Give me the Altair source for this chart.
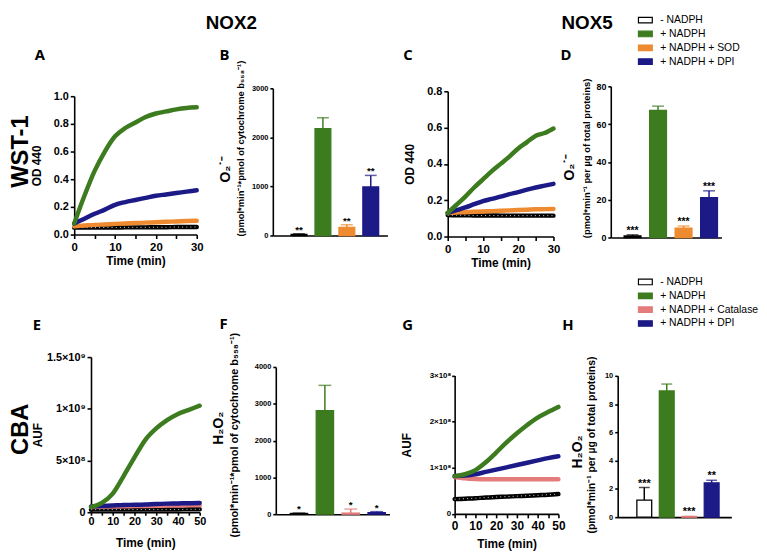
import altair as alt
import pandas as pd

FONT = "Liberation Sans"
HEAD_FONT = "Open Sans"

# ---------------- conditions & colours ----------------
COND_SOD = ["- NADPH", "+ NADPH", "+ NADPH + SOD", "+ NADPH + DPI"]
COND_CAT = ["- NADPH", "+ NADPH", "+ NADPH + Catalase", "+ NADPH + DPI"]
GREEN, BLUE, ORANGE, PINK, BLACK = "#3d7b1f", "#1c1a87", "#ee8a2f", "#e47c7c", "#000000"
LINE_SOD = [BLACK, GREEN, ORANGE, BLUE]
LINE_CAT = [BLACK, GREEN, PINK, BLUE]
FILL_SOD = ["#ffffff", GREEN, ORANGE, BLUE]
FILL_CAT = ["#ffffff", GREEN, PINK, BLUE]

# ---------------- panel A : NOX2 WST-1 (OD 440) ----------------
A_TIME = [0, 2.5, 5, 7.5, 10, 12.5, 15, 17.5, 20, 22.5, 25, 27.5, 30]
A_MINUS = [0.050, 0.050, 0.050, 0.051, 0.051, 0.052, 0.052, 0.052, 0.053, 0.053, 0.054, 0.054, 0.055]
A_NADPH = [0.08, 0.28, 0.46, 0.60, 0.71, 0.77, 0.81, 0.85, 0.875, 0.89, 0.905, 0.915, 0.92]
A_SOD = [0.060, 0.065, 0.070, 0.073, 0.077, 0.080, 0.083, 0.086, 0.089, 0.092, 0.095, 0.098, 0.100]
A_DPI = [0.08, 0.115, 0.15, 0.18, 0.215, 0.235, 0.25, 0.265, 0.28, 0.29, 0.30, 0.31, 0.32]

# ---------------- panel C : NOX5 WST-1 (OD 440) ----------------
C_TIME = [0, 2.5, 5, 7.5, 10, 12.5, 15, 17.5, 20, 22.5, 25, 27.5, 30]
C_MINUS = [0.118, 0.117, 0.117, 0.116, 0.116, 0.116, 0.115, 0.115, 0.115, 0.115, 0.115, 0.115, 0.115]
C_NADPH = [0.13, 0.175, 0.22, 0.27, 0.315, 0.36, 0.40, 0.44, 0.485, 0.52, 0.555, 0.57, 0.595]
C_SOD = [0.130, 0.132, 0.134, 0.136, 0.138, 0.140, 0.142, 0.144, 0.146, 0.148, 0.150, 0.151, 0.152]
C_DPI = [0.13, 0.145, 0.16, 0.178, 0.195, 0.207, 0.22, 0.233, 0.245, 0.258, 0.27, 0.28, 0.29]

# ---------------- panel E : NOX2 CBA (AUF, x10^9) ----------------
E_TIME = [0, 5, 10, 15, 20, 25, 30, 35, 40, 45, 50]
E_MINUS = [0.025, 0.025, 0.025, 0.026, 0.026, 0.026, 0.027, 0.027, 0.027, 0.028, 0.028]
E_NADPH = [0.05, 0.09, 0.18, 0.35, 0.53, 0.70, 0.81, 0.89, 0.95, 0.99, 1.03]
E_CAT = [0.050, 0.053, 0.055, 0.057, 0.059, 0.060, 0.062, 0.064, 0.065, 0.066, 0.068]
E_DPI = [0.055, 0.060, 0.065, 0.070, 0.072, 0.075, 0.080, 0.083, 0.085, 0.087, 0.090]

# ---------------- panel G : NOX5 CBA (AUF, x10^8) ----------------
G_TIME = [0, 5, 10, 15, 20, 25, 30, 35, 40, 45, 50]
G_MINUS = [0.32, 0.33, 0.34, 0.355, 0.365, 0.375, 0.385, 0.395, 0.405, 0.415, 0.43]
G_NADPH = [0.82, 0.86, 0.95, 1.12, 1.33, 1.55, 1.75, 1.93, 2.09, 2.21, 2.32]
G_CAT = [0.80, 0.77, 0.755, 0.75, 0.75, 0.75, 0.75, 0.75, 0.75, 0.75, 0.75]
G_DPI = [0.82, 0.83, 0.86, 0.91, 0.96, 1.01, 1.06, 1.11, 1.16, 1.21, 1.25]

# ---------------- bar panels ----------------
B_MEAN = [25, 2180, 165, 990]
B_ERR = [10, 220, 55, 235]
B_STARS = ["**", "", "**", "**"]
D_MEAN = [0.8, 67.3, 4.9, 21.1]
D_ERR = [0.6, 2.2, 1.2, 3.6]
D_STARS = ["***", "", "***", "***"]
F_MEAN = [20, 2810, 30, 40]
F_ERR = [10, 690, 110, 30]
F_STARS = ["*", "", "*", "*"]
H_MEAN = [1.21, 8.93, 0.05, 2.43]
H_ERR = [0.89, 0.49, 0.0, 0.18]
H_STARS = ["***", "", "***", "**"]

# ---------------- ticks & labels ----------------
T30_TICKS = [0, 5, 10, 15, 20, 25, 30]
T50_TICKS = [0, 5, 10, 15, 20, 25, 30, 35, 40, 45, 50]
A_YTICKS = [0, 0.2, 0.4, 0.6, 0.8, 1.0]
C_YTICKS = [0, 0.2, 0.4, 0.6, 0.8]
E_YTICKS = [0, 0.5, 1.0, 1.5]
E_YLABELS = ["0", "5×10⁸", "1×10⁹", "1.5×10⁹"]
G_YTICKS = [0, 1, 2, 3]
G_YLABELS = ["0", "1×10⁸", "2×10⁸", "3×10⁸"]
B_YTICKS = [0, 1000, 2000, 3000]
D_YTICKS = [0, 20, 40, 60, 80]
F_YTICKS = [0, 1000, 2000, 3000, 4000]
H_YTICKS = [0, 2, 4, 6, 8, 10]

TITLE_NOX2 = "(pmol*min⁻¹*pmol of cytochrome b₅₅₈⁻¹)"
TITLE_NOX5 = "(pmol*min⁻¹ per µg of total proteins)"


def label_expr(values, labels):
    parts = [f"datum.value == {v} ? '{l}'" for v, l in zip(values, labels)]
    return " : ".join(parts) + " : ''"


def text_layer(txt, x, y, size, font=FONT, weight="bold", angle=0, align="left"):
    return alt.Chart(pd.DataFrame({"txt": [txt]})).mark_text(
        font=font, fontSize=size, fontWeight=weight, angle=angle, align=align,
        baseline="alphabetic", color="black"
    ).encode(x=alt.value(x), y=alt.value(y), text="txt:N")


def line_panel(box, times, names, series, colors, xr, yr, xdom, ydom, xticks, yticks,
               yaxis_kw, xaxis_kw, extras):
    w, h = box
    rows = [{"t": t, "v": v, "s": n} for n, vals in zip(names, series) for t, v in zip(times, vals)]
    df = pd.DataFrame(rows)
    x = alt.X("t:Q", scale=alt.Scale(domain=xdom, range=xr, nice=False, zero=False),
              axis=alt.Axis(values=xticks, labelExpr="datum.value % 10 === 0 ? datum.label : ''",
                            title="Time (min)", offset=yr[0] - h, **xaxis_kw))
    y = alt.Y("v:Q", scale=alt.Scale(domain=ydom, range=yr, nice=False, zero=False),
              axis=alt.Axis(values=yticks, offset=-xr[0], **yaxis_kw))
    col = alt.Color("s:N", scale=alt.Scale(domain=names, range=colors), legend=None)
    base = alt.Chart(df)
    layers = []
    for name in [names[0], names[2], names[3], names[1]]:
        sub = base.transform_filter(alt.datum.s == name)
        layers.append(sub.mark_line(strokeWidth=4.5, strokeCap="round", strokeJoin="round",
                                    interpolate="monotone").encode(x=x, y=y, color=col))
        if name == names[0]:
            layers.append(sub.mark_line(strokeWidth=1.0, strokeDash=[1.0, 3.2], color="white",
                                        opacity=0.85, interpolate="monotone").encode(x=x, y=y))
    return alt.layer(*(layers + extras)).properties(width=w, height=h)


def bar_panel(box, names, means, errs, stars, fills, strokes, xr, band, yr, ydom, yticks,
              ylab_size, star_size, cap, legend_pos, extras):
    w, h = box
    df = pd.DataFrame({"cond": names, "mean": means, "err": errs, "star": stars})
    base = alt.Chart(df).transform_calculate(top="datum.mean + datum.err")
    pi, po, al = band
    xs = alt.Scale(domain=names, range=xr, paddingInner=pi, paddingOuter=po, align=al)
    x = alt.X("cond:N", scale=xs, axis=alt.Axis(labels=False, ticks=False, title=None, offset=yr[0] - h))
    ys = alt.Scale(domain=ydom, range=yr, nice=False, zero=True)
    yax = alt.Axis(values=yticks, title=None, offset=-xr[0], labelFontSize=ylab_size,
                   tickSize=3, labelPadding=2, format="d")
    y = alt.Y("mean:Q", scale=ys, axis=yax)
    ytop = alt.Y("top:Q", scale=ys, axis=yax)
    if legend_pos is not None:
        leg = alt.Legend(orient="none", legendX=legend_pos[0], legendY=legend_pos[1],
                         direction="vertical", title=None, symbolType="M-1,-0.4H1V0.4H-1Z",
                         symbolSize=196, symbolStrokeWidth=1.2, labelFont=FONT, labelFontSize=10.5,
                         labelFontWeight="normal", labelColor="black", labelOffset=7,
                         rowPadding=0, padding=0, symbolOpacity=1)
    else:
        leg = None
    bars = base.mark_bar(strokeWidth=1.3).encode(
        x=x, y=y,
        fill=alt.Fill("cond:N", scale=alt.Scale(domain=names, range=fills), legend=leg),
        stroke=alt.Stroke("cond:N", scale=alt.Scale(domain=names, range=strokes), legend=leg))
    col = alt.Color("cond:N", scale=alt.Scale(domain=names, range=strokes), legend=None)
    rule = base.mark_rule(strokeWidth=1.5).encode(x=x, y=y, y2="top:Q", color=col)
    capm = base.mark_tick(thickness=1.5, size=cap).encode(x=x, y=ytop, color=col)
    star = base.mark_text(font=FONT, fontSize=star_size, fontWeight="bold", baseline="alphabetic",
                          dy=-1, color="black").encode(x=x, y=ytop, text="star:N")
    return alt.layer(bars, rule, capm, star, *extras).properties(width=w, height=h)


# grid boxes (width, height)
BOX1 = (205, 270)
BOX2 = (185, 270)
BOX3 = (185, 270)
BOX4 = (176, 270)

ytitle_line = dict(titleFontSize=12, titleFontWeight="bold")

panel_a = line_panel(
    BOX1, A_TIME, COND_SOD, [A_MINUS, A_NADPH, A_SOD, A_DPI], LINE_SOD,
    xr=[67, 191], yr=[226, 86], xdom=[0, 30], ydom=[0, 1.0], xticks=T30_TICKS, yticks=A_YTICKS,
    yaxis_kw=dict(format=".1f", title="OD 440", labelFontSize=11, tickSize=4, labelPadding=2,
                  titlePadding=10, **ytitle_line),
    xaxis_kw=dict(labelFontSize=11.5, tickSize=4, labelPadding=3, titlePadding=3, titleFontSize=12),
    extras=[text_layer("A", 27, 49, 15, font=HEAD_FONT),
            text_layer("WST-1", 20, 142, 24, angle=270, align="center")])

panel_c = line_panel(
    BOX3, C_TIME, COND_SOD, [C_MINUS, C_NADPH, C_SOD, C_DPI], LINE_SOD,
    xr=[55, 162], yr=[228, 81], xdom=[0, 30], ydom=[0, 0.8], xticks=T30_TICKS, yticks=C_YTICKS,
    yaxis_kw=dict(format=".1f", title="OD 440", labelFontSize=11, tickSize=4, labelPadding=2,
                  titlePadding=10, **ytitle_line),
    xaxis_kw=dict(labelFontSize=11.5, tickSize=4, labelPadding=3, titlePadding=3, titleFontSize=12),
    extras=[text_layer("C", 10, 49, 15, font=HEAD_FONT)])

panel_e = line_panel(
    BOX1, E_TIME, COND_CAT, [E_MINUS, E_NADPH, E_CAT, E_DPI], LINE_CAT,
    xr=[84, 194], yr=[237, 80], xdom=[0, 50], ydom=[0, 1.5], xticks=T50_TICKS, yticks=E_YTICKS,
    yaxis_kw=dict(labelExpr=label_expr(E_YTICKS, E_YLABELS), title="AUF", labelFontSize=11,
                  tickSize=4, labelPadding=2, titlePadding=2, **ytitle_line),
    xaxis_kw=dict(labelFontSize=11, tickSize=3, labelPadding=0, titlePadding=12, titleFontSize=12),
    extras=[text_layer("E", 25, 53, 15, font=HEAD_FONT),
            text_layer("CBA", 20, 153, 24, angle=270, align="center")])

panel_g = line_panel(
    BOX3, G_TIME, COND_CAT, [G_MINUS, G_NADPH, G_CAT, G_DPI], LINE_CAT,
    xr=[62, 167], yr=[238.7, 98.7], xdom=[0, 50], ydom=[0, 3], xticks=T50_TICKS, yticks=G_YTICKS,
    yaxis_kw=dict(labelExpr=label_expr(G_YTICKS, G_YLABELS), title="AUF", labelFontSize=8,
                  tickSize=3, labelPadding=1, titlePadding=16, **ytitle_line),
    xaxis_kw=dict(labelFontSize=12, tickSize=4, labelPadding=3, titlePadding=7, titleFontSize=12),
    extras=[text_layer("G", 9, 53, 15, font=HEAD_FONT)])

panel_b = bar_panel(
    BOX2, COND_SOD, B_MEAN, B_ERR, B_STARS, FILL_SOD, LINE_SOD,
    xr=[63, 179], band=(0.34, 0.566, 0.675), yr=[227, 78], ydom=[0, 3000], yticks=B_YTICKS,
    ylab_size=7.5, star_size=10, cap=12, legend_pos=None,
    extras=[text_layer("B", 9, 49, 15, font=HEAD_FONT),
            text_layer("NOX2", 21, 18, 19, align="center"),
            text_layer("O₂˙⁻", 20, 160, 14, angle=270, align="center"),
            text_layer(TITLE_NOX2, 34, 139, 9.5, angle=270, align="center")])

panel_d = bar_panel(
    BOX4, COND_SOD, D_MEAN, D_ERR, D_STARS, FILL_SOD, LINE_SOD,
    xr=[35, 147], band=(0.34, 0.34, 0.77), yr=[229, 76], ydom=[0, 80], yticks=D_YTICKS,
    ylab_size=9, star_size=10.5, cap=12, legend_pos=(62, 1),
    extras=[text_layer("D", -16, 49, 15, font=HEAD_FONT),
            text_layer("NOX5", 11, 18, 19, align="center"),
            text_layer("O₂˙⁻", -2, 158, 14, angle=270, align="center"),
            text_layer(TITLE_NOX5, 14, 149, 9.5, angle=270, align="center")])

panel_f = bar_panel(
    BOX2, COND_CAT, F_MEAN, F_ERR, F_STARS, FILL_CAT, LINE_CAT,
    xr=[66, 181], band=(0.33, 0.36, 0.78), yr=[239, 90], ydom=[0, 4000], yticks=F_YTICKS,
    ylab_size=7.5, star_size=10, cap=13, legend_pos=None,
    extras=[text_layer("F", 9, 52, 15, font=HEAD_FONT),
            text_layer("H₂O₂", 13, 152, 14, angle=270, align="center"),
            text_layer(TITLE_NOX2, 28, 159, 11, angle=270, align="center")])

panel_h = bar_panel(
    BOX4, COND_CAT, H_MEAN, H_ERR, H_STARS, FILL_CAT, LINE_CAT,
    xr=[42, 157], band=(0.34, 0.70, 0.61), yr=[242, 99], ydom=[0, 10], yticks=H_YTICKS,
    ylab_size=7.5, star_size=11, cap=11, legend_pos=(62, -4),
    extras=[text_layer("H", -14, 53, 15, font=HEAD_FONT),
            text_layer("H₂O₂", 6, 176, 14, angle=270, align="center"),
            text_layer(TITLE_NOX5, 19, 169, 10.5, angle=270, align="center")])

chart = alt.concat(
    panel_a, panel_b, panel_c, panel_d, panel_e, panel_f, panel_g, panel_h,
    columns=4, spacing=0, bounds="flush", align="each"
).resolve_scale(
    color="independent", fill="independent", stroke="independent"
).properties(padding=0).configure_view(strokeWidth=0).configure_axis(
    domainColor="black", domainWidth=1.6, tickColor="black", tickWidth=1.6,
    labelFont=FONT, labelFontWeight="bold", labelColor="black",
    titleFont=FONT, titleColor="black", titleFontWeight="bold",
    grid=False, labelFlush=False, labelOverlap=False
)

chart.save("out.html", embed_options={"renderer": "svg", "actions": False})
